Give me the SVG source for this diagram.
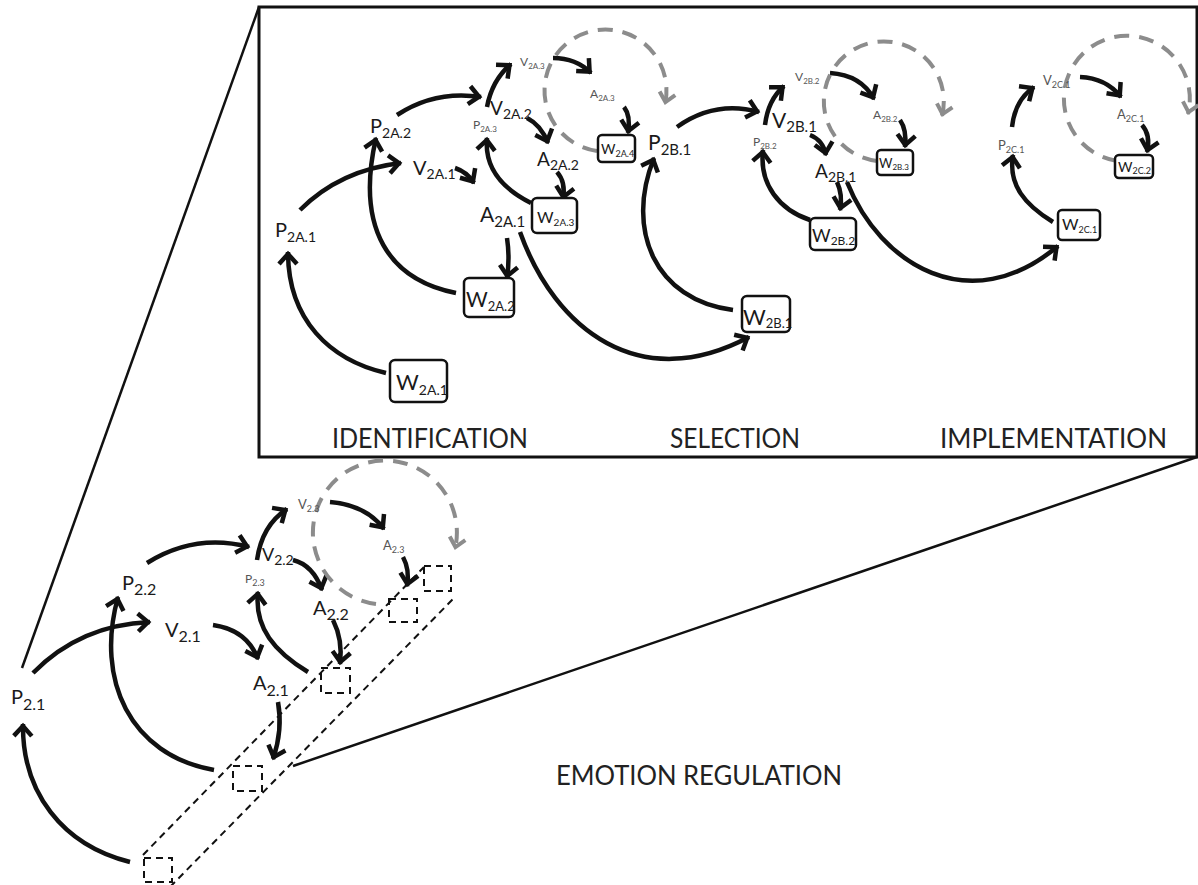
<svg xmlns="http://www.w3.org/2000/svg" width="1198" height="885" viewBox="0 0 1198 885">
<defs>
<style>
.t{font-family:"Lato","Liberation Sans",sans-serif;fill:#1a1a1a}
.s{font-family:"Lato","Liberation Sans",sans-serif;fill:#555}
.c{fill:none;stroke:#111;stroke-width:4.5;marker-end:url(#ah)}
.g{fill:none;stroke:#8c8c8c;stroke-width:4;stroke-dasharray:15 10;marker-end:url(#gh)}
.w{fill:#fff;stroke:#111;stroke-width:2.5}
.d{fill:none;stroke:#111;stroke-width:2;stroke-dasharray:7 5}
.frame{fill:none;stroke:#111;stroke-width:3}
.ln{fill:none;stroke:#111;stroke-width:2.5}
.lab{font-family:"Lato","Liberation Sans",sans-serif;fill:#222;font-size:27px}
</style>
<marker id="ah" markerUnits="userSpaceOnUse" viewBox="-18 -13 22 26" markerWidth="22" markerHeight="26" refX="0" refY="0" orient="auto">
<path d="M-12,-9 L-2,0 L-12,9" fill="none" stroke="#111" stroke-width="4.5"/>
</marker>
<marker id="gh" markerUnits="userSpaceOnUse" viewBox="-18 -13 22 26" markerWidth="22" markerHeight="26" refX="0" refY="0" orient="auto">
<path d="M-11,-8 L-2,0 L-11,8" fill="none" stroke="#8c8c8c" stroke-width="4"/>
</marker>
</defs>
<rect width="1198" height="885" fill="#fff"/>

<g id="zoom-frame">
<rect class="frame" x="259" y="7" width="938" height="450"/>
<path class="ln" d="M259,7 L22,668"/>
<path class="ln" d="M1197,457 L293,766"/>
<path class="d" d="M143,855 L424,567"/>
<path class="d" d="M170,887 L455,597"/>
</g>

<g id="connectors">
<!-- bottom -->
<path class="c" d="M130,862 C 62,845 22,792 23,724"/>
<path class="c" d="M33,673 Q 80,625 150,622"/>
<path class="c" d="M214,770 C 130,755 95,680 118,597"/>
<path class="c" d="M147,563 Q 195,533 249,547"/>
<path class="c" d="M213,625 Q 247,630 258,659"/>
<path class="c" d="M278,702 Q 283,730 273,759"/>
<path class="c" d="M308,672 C 275,652 254,628 258,592"/>
<path class="c" d="M257,560 Q 262,525 287,509"/>
<path class="c" d="M330,502 Q 366,505 384,529"/>
<path class="c" d="M293,560 Q 313,565 322,590"/>
<path class="c" d="M333,620 Q 343,640 340,664"/>
<path class="c" d="M403,557 Q 410,570 407,586"/>
<path class="g" d="M376,604 A72,72 0 1 1 455,549"/>
<!-- top: identification -->
<path class="c" d="M386,373 C 330,360 288,320 288,252"/>
<path class="c" d="M300,210 Q 340,170 401,163"/>
<path class="c" d="M456,293 C 390,280 355,230 376,138"/>
<path class="c" d="M397,115 Q 435,90 481,97"/>
<path class="c" d="M455,168 Q 467,172 474,183"/>
<path class="c" d="M487,107 Q 492,80 511,64"/>
<path class="c" d="M553,58 Q 576,58 591,73"/>
<path class="c" d="M527,118 Q 541,125 548,143"/>
<path class="c" d="M557,172 Q 566,182 563,199"/>
<path class="c" d="M531,203 C 505,190 484,170 487,138"/>
<path class="c" d="M507,238 Q 510,258 507,278"/>
<path class="c" d="M520,232 C 555,330 640,395 749,337"/>
<path class="c" d="M624,107 Q 631,116 628,133"/>
<path class="g" d="M597,151 A61,61 0 1 1 665,104"/>
<!-- selection -->
<path class="c" d="M677,127 Q 715,100 759,112"/>
<path class="c" d="M733,310 C 655,300 625,230 654,158"/>
<path class="c" d="M765,125 Q 768,100 784,86"/>
<path class="c" d="M830,73 Q 861,75 874,99"/>
<path class="c" d="M810,135 Q 823,140 826,155"/>
<path class="c" d="M837,182 Q 843,195 840,210"/>
<path class="c" d="M810,220 C 780,210 759,185 763,150"/>
<path class="c" d="M900,120 Q 907,130 905,147"/>
<path class="c" d="M847,182 C 880,265 970,320 1058,246"/>
<path class="g" d="M877,161 A60,60 0 1 1 942,116"/>
<!-- implementation -->
<path class="c" d="M1012,127 Q 1015,100 1034,87"/>
<path class="c" d="M1080,77 Q 1106,78 1121,97"/>
<path class="c" d="M1142,125 Q 1151,135 1147,152"/>
<path class="c" d="M1053,222 C 1025,205 1008,185 1013,155"/>
<path class="g" d="M1117,161 A63,63 0 1 1 1188,114"/>
</g>

<g id="bottom-nodes">
<g id="P2.1"><text class="t" x="11" y="704" font-size="20">P<tspan dy="6" font-size="16">2.1</tspan></text></g>
<g id="P2.2"><text class="t" x="122" y="590" font-size="20">P<tspan dy="5" font-size="16">2.2</tspan></text></g>
<g id="V2.1"><text class="t" x="165" y="637" font-size="20">V<tspan dy="5" font-size="16">2.1</tspan></text></g>
<g id="A2.1"><text class="t" x="253" y="690" font-size="20">A<tspan dy="6" font-size="16">2.1</tspan></text></g>
<g id="V2.2"><text class="t" x="262" y="561" font-size="18">V<tspan dy="4" font-size="14">2.2</tspan></text></g>
<g id="A2.2"><text class="t" x="313" y="615" font-size="20">A<tspan dy="5" font-size="16">2.2</tspan></text></g>
<g id="P2.3"><text class="s" x="245" y="583" font-size="12">P<tspan dy="3" font-size="9">2.3</tspan></text></g>
<g id="V2.3"><text class="s" x="298" y="509" font-size="13">V<tspan dy="3" font-size="9">2.3</tspan></text></g>
<g id="A2.3"><text class="s" x="383" y="550" font-size="13">A<tspan dy="3" font-size="9">2.3</tspan></text></g>
<g id="W2.1"><rect class="d" x="144" y="858" width="28" height="24"/></g>
<g id="W2.2"><rect class="d" x="233" y="766" width="29" height="25"/></g>
<g id="W2.3"><rect class="d" x="321" y="668" width="29" height="25"/></g>
<g id="W2.4"><rect class="d" x="389" y="599" width="28" height="23"/></g>
<g id="W2.5"><rect class="d" x="424" y="566" width="27" height="25"/></g>
</g>

<g id="top-nodes">
<g id="P2A.1"><text class="t" x="275" y="237" font-size="20">P<tspan dy="5" font-size="14">2A.1</tspan></text></g>
<g id="P2A.2"><text class="t" x="370" y="133" font-size="20">P<tspan dy="5" font-size="14">2A.2</tspan></text></g>
<g id="V2A.1"><text class="t" x="413" y="175" font-size="20">V<tspan dy="4" font-size="14">2A.1</tspan></text></g>
<g id="A2A.1"><text class="t" x="480" y="222" font-size="21">A<tspan dy="5" font-size="15">2A.1</tspan></text></g>
<g id="V2A.2"><text class="t" x="490" y="115" font-size="19">V<tspan dy="4" font-size="14">2A.2</tspan></text></g>
<g id="A2A.2"><text class="t" x="537" y="166" font-size="19">A<tspan dy="4" font-size="14">2A.2</tspan></text></g>
<g id="P2A.3"><text class="s" x="473" y="129" font-size="12">P<tspan dy="3" font-size="8">2A.3</tspan></text></g>
<g id="V2A.3"><text class="s" x="520" y="66" font-size="12">V<tspan dy="3" font-size="8">2A.3</tspan></text></g>
<g id="A2A.3"><text class="s" x="590" y="98" font-size="12">A<tspan dy="3" font-size="8">2A.3</tspan></text></g>
<g id="W2A.1"><rect class="w" x="390" y="360" width="57" height="42" rx="5"/><text class="t" x="396" y="390" font-size="22">W<tspan dy="5" font-size="14">2A.1</tspan></text></g>
<g id="W2A.2"><rect class="w" x="464" y="278" width="50" height="39" rx="5"/><text class="t" x="466" y="307" font-size="21">W<tspan dy="4" font-size="13">2A.2</tspan></text></g>
<g id="W2A.3"><rect class="w" x="532" y="198" width="45" height="35" rx="5"/><text class="t" x="537" y="223" font-size="16">W<tspan dy="3" font-size="10">2A.3</tspan></text></g>
<g id="W2A.4"><rect class="w" x="598" y="135" width="37" height="27" rx="4"/><text class="t" x="601" y="154" font-size="14">W<tspan dy="3" font-size="9">2A.4</tspan></text></g>

<g id="P2B.1"><text class="t" x="648" y="150" font-size="21">P<tspan dy="5" font-size="15">2B.1</tspan></text></g>
<g id="V2B.1"><text class="t" x="772" y="128" font-size="21">V<tspan dy="4" font-size="15">2B.1</tspan></text></g>
<g id="A2B.1"><text class="t" x="815" y="178" font-size="19">A<tspan dy="4" font-size="14">2B.1</tspan></text></g>
<g id="P2B.2"><text class="s" x="753" y="146" font-size="12">P<tspan dy="3" font-size="8">2B.2</tspan></text></g>
<g id="V2B.2"><text class="s" x="795" y="81" font-size="12">V<tspan dy="3" font-size="8">2B.2</tspan></text></g>
<g id="A2B.2"><text class="s" x="873" y="119" font-size="12">A<tspan dy="3" font-size="8">2B.2</tspan></text></g>
<g id="W2B.1"><rect class="w" x="742" y="296" width="48" height="36" rx="5"/><text class="t" x="743" y="325" font-size="22">W<tspan dy="3" font-size="13">2B.1</tspan></text></g>
<g id="W2B.2"><rect class="w" x="810" y="218" width="46" height="32" rx="5"/><text class="t" x="812" y="242" font-size="18">W<tspan dy="3" font-size="12">2B.2</tspan></text></g>
<g id="W2B.3"><rect class="w" x="877" y="150" width="36" height="25" rx="4"/><text class="t" x="879" y="168" font-size="13">W<tspan dy="2" font-size="8">2B.3</tspan></text></g>

<g id="P2C.1"><text class="s" x="998" y="150" font-size="13">P<tspan dy="3" font-size="9">2C.1</tspan></text></g>
<g id="V2C.1"><text class="s" x="1043" y="85" font-size="13">V<tspan dy="3" font-size="9">2C.1</tspan></text></g>
<g id="A2C.1"><text class="s" x="1117" y="119" font-size="13">A<tspan dy="3" font-size="9">2C.1</tspan></text></g>
<g id="W2C.1"><rect class="w" x="1058" y="210" width="42" height="30" rx="4"/><text class="t" x="1062" y="230" font-size="16">W<tspan dy="3" font-size="9">2C.1</tspan></text></g>
<g id="W2C.2"><rect class="w" x="1115" y="155" width="38" height="23" rx="4"/><text class="t" x="1118" y="172" font-size="14">W<tspan dy="2" font-size="9">2C.2</tspan></text></g>
</g>

<g id="labels">
<text class="lab" x="332" y="448" textLength="196" lengthAdjust="spacingAndGlyphs">IDENTIFICATION</text>
<text class="lab" x="670" y="448" textLength="130" lengthAdjust="spacingAndGlyphs">SELECTION</text>
<text class="lab" x="940" y="448" textLength="227" lengthAdjust="spacingAndGlyphs">IMPLEMENTATION</text>
<text class="lab" x="556" y="785" textLength="286" lengthAdjust="spacingAndGlyphs">EMOTION REGULATION</text>
</g>
</svg>
